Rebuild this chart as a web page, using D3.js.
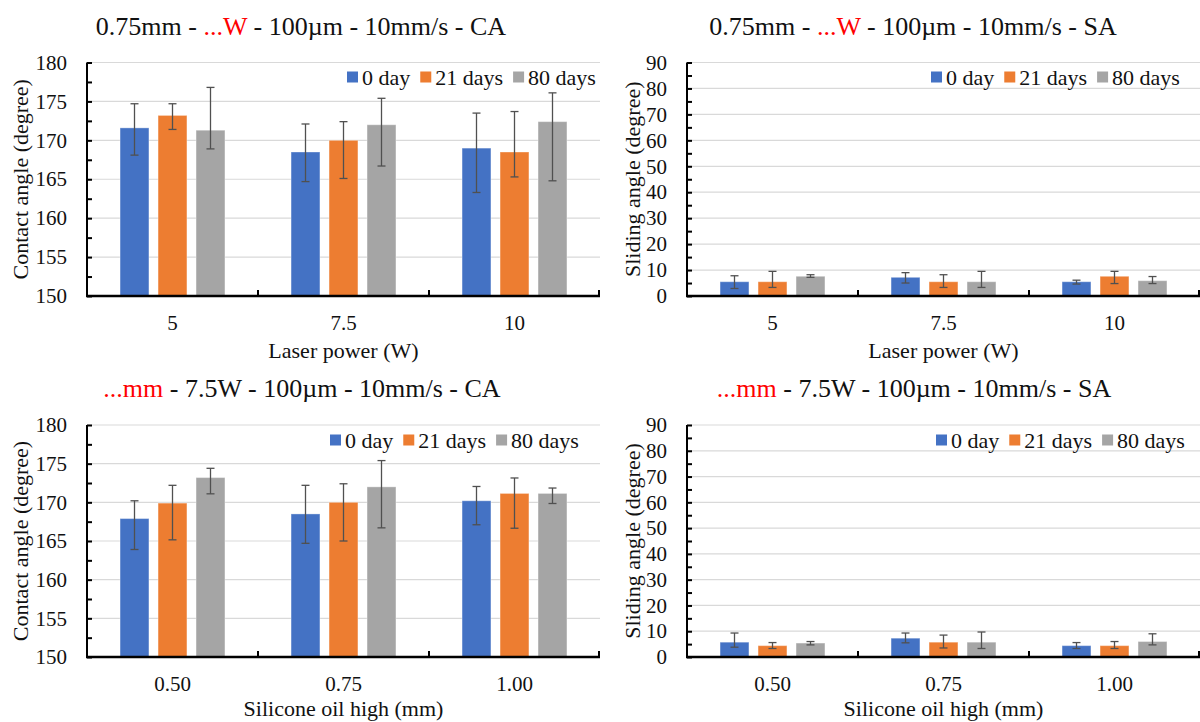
<!DOCTYPE html>
<html>
<head>
<meta charset="utf-8">
<script src="https://cdn.jsdelivr.net/npm/d3@7"></script>
<style>
  html, body { margin: 0; padding: 0; background: #fff; }
  svg { display: block; }
  svg text { font-family: "Liberation Serif", Tinos, "Times New Roman", Times, "DejaVu Serif", "Noto Serif", serif; }
</style>
</head>
<body>
<svg id="chart" width="1200" height="722"></svg>
<script>
// ---- data ----
const seriesLabels = ["0 day", "21 days", "80 days"];
const laserPowers = ["5", "7.5", "10"];
const oilHeights = ["0.50", "0.75", "1.00"];

const caTicks = [150, 155, 160, 165, 170, 175, 180];
const saTicks = [0, 10, 20, 30, 40, 50, 60, 70, 80, 90];

// contact angle vs laser power (rows: power, columns: ageing time)
const caPowerMean = [[171.6, 173.2, 171.3], [168.5, 170.0, 172.0], [169.0, 168.5, 172.4]];
const caPowerErrUp = [[3.1, 1.5, 5.5], [3.6, 2.4, 3.4], [4.5, 5.2, 3.7]];
const caPowerErrDown = [[3.5, 1.8, 2.4], [3.8, 4.9, 5.3], [5.7, 3.2, 7.6]];

// sliding angle vs laser power
const saPowerMean = [[5.5, 5.5, 7.6], [7.2, 5.5, 5.5], [5.5, 7.6, 5.9]];
const saPowerErrUp = [[2.3, 4.0, 0.6], [1.8, 2.7, 4.0], [0.6, 1.9, 1.6]];
const saPowerErrDown = [[2.6, 2.2, 0.4], [2.2, 2.2, 2.2], [0.9, 2.8, 1.1]];

// contact angle vs silicone oil height
const caOilMean = [[167.9, 169.9, 173.2], [168.5, 170.0, 172.0], [170.2, 171.15, 171.15]];
const caOilErrUp = [[2.3, 2.3, 1.2], [3.7, 2.4, 3.4], [1.85, 2.0, 0.7]];
const caOilErrDown = [[4.0, 4.75, 2.1], [3.8, 5.0, 5.3], [3.1, 4.5, 1.3]];

// sliding angle vs silicone oil height
const saOilMean = [[5.75, 4.4, 5.4], [7.3, 5.75, 5.75], [4.4, 4.4, 6.0]];
const saOilErrUp = [[3.55, 1.2, 0.6], [2.0, 2.75, 3.95], [1.2, 1.6, 3.0]];
const saOilErrDown = [[1.95, 1.1, 0.7], [1.8, 2.25, 2.45], [1.1, 1.1, 1.3]];

// ---- styling ----
const palette = ["#4472C4", "#ED7D31", "#A5A5A5"];

const svg = d3.select("#chart");

function drawPanel(p) {
  const g = svg.append("g");
  const y = d3.scaleLinear().domain(p.domain).range([p.yBot, p.yTop]);
  const x0 = d3.scaleBand().domain(p.categories).range([p.x0, p.x1]).paddingInner(0).paddingOuter(0);
  const x1 = d3.scaleBand().domain(seriesLabels).range([0, x0.bandwidth()])
    .paddingInner(0.24).paddingOuter(0.87);

  // gridlines
  g.append("g").selectAll("line").data(p.ticks).join("line")
    .attr("x1", p.x0).attr("x2", p.x1)
    .attr("y1", d => y(d)).attr("y2", d => y(d))
    .attr("stroke", "#d9d9d9").attr("stroke-width", 1.2);

  // bars
  const rows = p.categories.map((c, i) => seriesLabels.map((s, j) => ({
    cat: c, series: s, j,
    v: p.mean[i][j], up: p.errUp[i][j], down: p.errDown[i][j]
  })));
  const groups = g.append("g").selectAll("g").data(rows).join("g")
    .attr("transform", d => `translate(${x0(d[0].cat)},0)`);
  groups.selectAll("rect").data(d => d).join("rect")
    .attr("x", d => x1(d.series))
    .attr("width", x1.bandwidth())
    .attr("y", d => y(d.v))
    .attr("height", d => y(p.domain[0]) - y(d.v))
    .attr("fill", d => palette[d.j])
    .attr("stroke", "rgba(255,255,255,0.35)")
    .attr("stroke-width", 1);

  // error bars
  const eb = groups.selectAll("g.err").data(d => d).join("g").attr("class", "err")
    .attr("stroke", "#505050").attr("stroke-width", 1.3);
  const cx = d => x1(d.series) + x1.bandwidth() / 2;
  eb.append("line").attr("x1", cx).attr("x2", cx)
    .attr("y1", d => y(d.v + d.up)).attr("y2", d => y(d.v - d.down));
  eb.append("line").attr("x1", d => cx(d) - 4).attr("x2", d => cx(d) + 4)
    .attr("y1", d => y(d.v + d.up)).attr("y2", d => y(d.v + d.up));
  eb.append("line").attr("x1", d => cx(d) - 4).attr("x2", d => cx(d) + 4)
    .attr("y1", d => y(d.v - d.down)).attr("y2", d => y(d.v - d.down));

  // y axis: labels, inner ticks, spine
  const yLab = g.append("g").attr("transform", `translate(${p.x0},0)`)
    .call(d3.axisLeft(y).tickValues(p.ticks).tickSize(0).tickPadding(20));
  yLab.attr("font-family", null);
  yLab.select(".domain").remove();
  yLab.selectAll("text").attr("font-size", 21).attr("fill", "#111");

  const minor = d3.range(p.domain[0], p.domain[1] + 1e-9, p.minorStep);
  const yTicks = g.append("g").attr("transform", `translate(${p.x0},0)`)
    .call(d3.axisRight(y).tickValues(minor).tickSize(5).tickFormat(""));
  yTicks.select(".domain").remove();
  yTicks.selectAll("line").attr("stroke", "#000").attr("stroke-width", 2);
  g.append("line").attr("x1", p.x0).attr("x2", p.x0)
    .attr("y1", p.yTop).attr("y2", p.yBot + 1)
    .attr("stroke", "#000").attr("stroke-width", 2);

  // x axis: category labels, boundary ticks, spine
  const xLab = g.append("g").attr("transform", `translate(0,${p.yBot})`)
    .call(d3.axisBottom(x0).tickSize(0).tickPadding(19));
  xLab.attr("font-family", null);
  xLab.select(".domain").remove();
  xLab.selectAll("text").attr("font-size", 21).attr("fill", "#111");

  const bounds = p.categories.map(c => x0(c) + x0.bandwidth()).concat([p.x0]);
  g.append("g").selectAll("line").data(bounds).join("line")
    .attr("x1", d => Math.min(d, p.x1 - 1)).attr("x2", d => Math.min(d, p.x1 - 1))
    .attr("y1", p.yBot).attr("y2", p.yBot - 6)
    .attr("stroke", "#000").attr("stroke-width", 2);
  g.append("line").attr("x1", p.x0 - 1).attr("x2", p.x1)
    .attr("y1", p.yBot).attr("y2", p.yBot)
    .attr("stroke", "#000").attr("stroke-width", 2.4);

  // axis titles
  g.append("text")
    .attr("x", (p.x0 + p.x1) / 2).attr("y", p.xTitleY)
    .attr("text-anchor", "middle").attr("font-size", 22).attr("fill", "#111")
    .text(p.xTitle);
  g.append("text")
    .attr("transform", `translate(${p.yTitleX},${(p.yTop + p.yBot) / 2}) rotate(-90)`)
    .attr("text-anchor", "middle").attr("dominant-baseline", "central")
    .attr("font-size", 22).attr("fill", "#111")
    .text(p.yTitle);

  // chart title with highlighted variable part
  const t = g.append("text")
    .attr("x", p.titleX).attr("y", p.titleY)
    .attr("text-anchor", "middle").attr("font-size", 26).attr("fill", "#111");
  p.title.forEach(([s, red]) => t.append("tspan").attr("fill", red ? "#FF0000" : "#111").text(s));

  // legend
  const lg = g.append("g").attr("transform", `translate(${p.legendX},${p.legendY})`);
  let cursor = 0;
  seriesLabels.forEach((s, j) => {
    lg.append("rect").attr("x", cursor).attr("y", -5.5).attr("width", 11).attr("height", 11)
      .attr("fill", palette[j]);
    const txt = lg.append("text").attr("x", cursor + 15).attr("y", 0)
      .attr("dominant-baseline", "central")
      .attr("font-size", 22).attr("fill", "#111").text(s);
    cursor += 15 + txt.node().getComputedTextLength() + 10;
  });
}

const TOP = { yTop: 62.5, yBot: 296, titleY: 35, legendY: 77, xTitleY: 358 };
const BOT = { yTop: 425, yBot: 657, titleY: 397, legendY: 440, xTitleY: 716 };
const LEFT = { x0: 87, x1: 600, yTitleX: 20 };
const RIGHT = { x0: 687, x1: 1200, yTitleX: 632 };

drawPanel(Object.assign({}, TOP, LEFT, {
  domain: [150, 180], ticks: caTicks, minorStep: 2.5,
  categories: laserPowers, mean: caPowerMean, errUp: caPowerErrUp, errDown: caPowerErrDown,
  xTitle: "Laser power (W)", yTitle: "Contact angle (degree)",
  title: [["0.75mm - ", false], ["...W", true], [" - 100µm - 10mm/s - CA", false]],
  titleX: 301, legendX: 347
}));
drawPanel(Object.assign({}, TOP, RIGHT, {
  domain: [0, 90], ticks: saTicks, minorStep: 5,
  categories: laserPowers, mean: saPowerMean, errUp: saPowerErrUp, errDown: saPowerErrDown,
  xTitle: "Laser power (W)", yTitle: "Sliding angle (degree)",
  title: [["0.75mm - ", false], ["...W", true], [" - 100µm - 10mm/s - SA", false]],
  titleX: 913, legendX: 931
}));
drawPanel(Object.assign({}, BOT, LEFT, {
  domain: [150, 180], ticks: caTicks, minorStep: 2.5,
  categories: oilHeights, mean: caOilMean, errUp: caOilErrUp, errDown: caOilErrDown,
  xTitle: "Silicone oil high (mm)", yTitle: "Contact angle (degree)",
  title: [["...mm", true], [" - 7.5W - 100µm - 10mm/s - CA", false]],
  titleX: 302, legendX: 330
}));
drawPanel(Object.assign({}, BOT, RIGHT, {
  domain: [0, 90], ticks: saTicks, minorStep: 5,
  categories: oilHeights, mean: saOilMean, errUp: saOilErrUp, errDown: saOilErrDown,
  xTitle: "Silicone oil high (mm)", yTitle: "Sliding angle (degree)",
  title: [["...mm", true], [" - 7.5W - 100µm - 10mm/s - SA", false]],
  titleX: 914, legendX: 936
}));
</script>
</body>
</html>
